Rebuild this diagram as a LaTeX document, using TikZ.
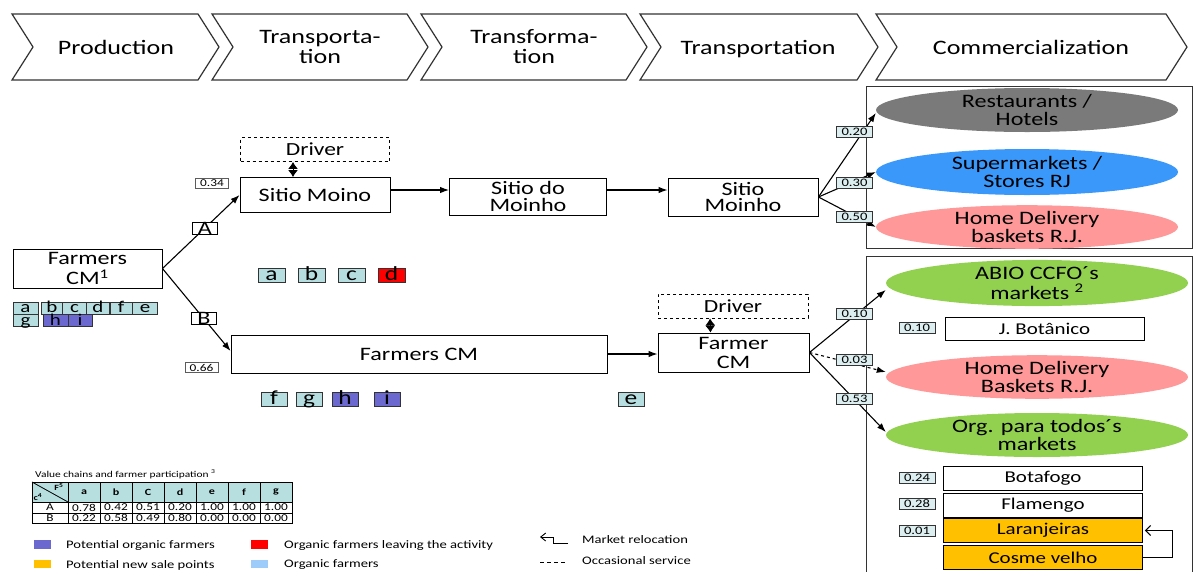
\documentclass[tikz,border=0pt]{standalone}
\usepackage{fontspec}
\setmainfont[FakeStretch=1.27]{Carlito}
\usetikzlibrary{arrows.meta,shapes.geometric}

\definecolor{edge}{HTML}{333333}
\definecolor{tealbox}{HTML}{B6DEE0}
\definecolor{purplebox}{HTML}{6B68CF}
\definecolor{redbox}{HTML}{FF0000}
\definecolor{grayell}{HTML}{7A7A7A}
\definecolor{blueell}{HTML}{3A98FA}
\definecolor{pinkell}{HTML}{FF9999}
\definecolor{greenell}{HTML}{92D050}
\definecolor{orangebox}{HTML}{FFC000}
\definecolor{labelfill}{HTML}{DCEEF0}
\definecolor{lightblue}{HTML}{9DCBFA}
\definecolor{tablehead}{HTML}{B7DFE0}

% one chevron of the header: left x, right corner x
\newcommand\chevronshape[2]{%
  \draw[chev] (#1,14) -- (#2,14) -- ++(21,33) -- (#2,80) -- (#1,80) -- ++(21,-33) -- cycle;}

\begin{document}
\begin{tikzpicture}[x=1pt,y=-1pt,
  chev/.style={draw=edge, line width=1.2pt},
  hdr/.style={align=center, font=\fontsize{20.5}{20}\selectfont},
  hdrline/.style={hdr, anchor=base},
  stage/.style={draw=black, line width=0.9pt, inner sep=0pt, align=center,
                font=\fontsize{19}{16.5}\selectfont},
  drvbox/.style={stage, dashed, font=\fontsize{18.5}{18}\selectfont},
  ell/.style={ellipse, fill=#1, inner sep=0pt, align=center, minimum width=302pt,
              font=\fontsize{19}{17.5}\selectfont},
  share/.style={draw=edge, fill=labelfill, line width=0.9pt, inner sep=0pt,
                minimum width=36pt, minimum height=11pt, font=\fontsize{11.5}{11}\selectfont},
  sharew/.style={share, fill=white, draw=edge!80, minimum width=33pt, minimum height=10pt,
                 font=\fontsize{10.5}{10}\selectfont},
  branch/.style={draw=black, fill=white, line width=0.8pt, inner sep=0pt,
                 minimum width=25pt, text height=12pt, text depth=0pt,
                 font=\fontsize{19}{19}\selectfont},
  ltr/.style={draw=edge, line width=0.8pt, fill=#1, inner sep=0pt,
              text height=10.5pt, text depth=0pt, font=\fontsize{20}{20}\selectfont},
  tinyltr/.style={ltr=#1, text height=9pt, font=\fontsize{16.5}{16}\selectfont},
  outlet/.style={draw=black, line width=0.9pt, inner sep=0pt, minimum width=199pt,
                 minimum height=24pt, font=\fontsize{16.5}{16}\selectfont},
  arr/.style={-{Latex[length=9pt,width=6.5pt]}, line width=1.1pt},
  dbl/.style={{Latex[length=7pt,width=10pt]}-{Latex[length=7pt,width=10pt]}, line width=1pt},
  frame/.style={draw=edge, line width=1pt},
  small/.style={inner sep=0pt, font=\fontsize{10.5}{10}\selectfont},
  legend/.style={anchor=west, inner sep=0pt, font=\fontsize{11.5}{11}\selectfont}
]
\fill[white] (0,0) rectangle (1194,571);
\useasboundingbox (0,0) rectangle (1194,571);

% ---------- header chevrons ----------
\chevronshape{12}{198}
\chevronshape{212}{407}
\chevronshape{421}{626}
\chevronshape{640}{857}
\chevronshape{876}{1166}
\node[hdrline] (h1) at (116,54) {Production};
\node[hdr] (h2) at (320,47) {Transporta-\\tion};
\node[hdr] (h3) at (534,47) {Transforma-\\tion};
\node[hdrline] (h4) at (758,54) {Transportation};
\node[hdrline] (h5) at (1031,54) {Commercialization};

% ---------- production ----------
\node[stage, minimum width=149pt, minimum height=39pt, font=\fontsize{19}{20}\selectfont]
  (farmers) at (87.5,268.5) {Farmers\\CM\textsuperscript{1}};

% farmer groups under the producer box
\node[tinyltr=tealbox, minimum width=25pt, minimum height=12pt] (la) at (25.5,308) {a};
\node[tinyltr=tealbox, minimum width=21pt, minimum height=12pt] (lb) at (52,308) {b};
\node[tinyltr=tealbox, minimum width=24pt, minimum height=12pt] (lc) at (74.5,308) {c};
\node[tinyltr=tealbox, minimum width=23pt, minimum height=12pt] (ld) at (98,308) {d};
\node[tinyltr=tealbox, minimum width=22pt, minimum height=12pt] (lf) at (121,308) {f};
\node[tinyltr=tealbox, minimum width=25pt, minimum height=12pt] (le) at (145,308) {e};
\node[tinyltr=tealbox, minimum width=25pt, minimum height=12pt] (lg) at (25.5,320.5) {g};
\node[tinyltr=purplebox, minimum width=25pt, minimum height=12pt] (lh) at (55.5,320.5) {h};
\node[tinyltr=purplebox, minimum width=24pt, minimum height=12pt] (li) at (80,320.5) {i};

% ---------- chain A ----------
\node[drvbox, minimum width=149pt, minimum height=24pt] (drv1) at (315,149.5) {Driver};
\node[stage, minimum width=150pt, minimum height=35pt] (sm) at (315,195) {Sitio Moino};
\node[stage, minimum width=157pt, minimum height=37pt] (sdm) at (528,196.5) {Sitio do\\Moinho};
\node[stage, minimum width=150pt, minimum height=38pt] (smh) at (743,197) {Sitio\\Moinho};

\draw[dbl] ([xshift=-22pt]drv1.south) -- ([xshift=-22pt]sm.north);
\draw[arr] ([yshift=5pt]sm.east) -- ([yshift=5pt]sm.east -| sdm.west);
\draw[arr] ([yshift=6.5pt]sdm.east) -- ([yshift=6.5pt]sdm.east -| smh.west);

\node[ltr=tealbox, minimum width=27pt, minimum height=14pt] (ma) at (271.5,275) {a};
\node[ltr=tealbox, minimum width=27pt, minimum height=14pt] (mb) at (311.5,275) {b};
\node[ltr=tealbox, minimum width=27pt, minimum height=14pt] (mc) at (351.5,275) {c};
\node[ltr=redbox, minimum width=27pt, minimum height=14pt] (md) at (391.5,275) {d};

% ---------- chain B ----------
\node[drvbox, minimum width=150pt, minimum height=24pt] (drv2) at (733,306) {Driver};
\node[stage, minimum width=376pt, minimum height=38pt] (fcm) at (419,354) {Farmers CM};
\node[stage, minimum width=151pt, minimum height=39pt, font=\fontsize{19}{19}\selectfont]
  (farmer) at (733.5,352.5) {Farmer\\CM};

\draw[dbl] ([xshift=-23pt]drv2.south) -- ([xshift=-23pt]farmer.north);
\draw[arr] (fcm.east) -- (fcm.east -| farmer.west);

\node[ltr=tealbox, minimum width=26pt, minimum height=14pt] (nf) at (274,399) {f};
\node[ltr=tealbox, minimum width=26pt, minimum height=14pt] (ng) at (309,399) {g};
\node[ltr=purplebox, minimum width=26pt, minimum height=14pt] (nh) at (345,399) {h};
\node[ltr=purplebox, minimum width=26pt, minimum height=14pt] (ni) at (387,399) {i};
\node[ltr=tealbox, minimum width=26pt, minimum height=14pt] (ne) at (631,399) {e};

% ---------- split between the two chains ----------
\draw[arr] (farmers.east) -- (sm.west)
  node[branch, pos=0.55] (brA) {A};
\draw[arr] (farmers.east) -- ([yshift=3pt]fcm.west)
  node[branch, pos=0.61] (brB) {B};
\node[sharew] (vA) at (212,183.5) {0.34};
\node[sharew] (vB) at (201.5,367.5) {0.66};

% ---------- commercialization, chain A ----------
\draw[frame] (866,86) rectangle (1192,248);
\node[ell=grayell, minimum height=44pt] (rest) at (1027,110) {Restaurants /\\Hotels};
\node[ell=blueell, minimum height=46pt] (super) at (1027,172) {Supermarkets /\\Stores RJ};
\node[ell=pinkell, minimum height=42pt] (homeA) at (1027,227) {Home Delivery\\baskets R.J.};

\draw[arr] (smh.east) -- ([yshift=-3pt]rest.west);
\draw[arr] (smh.east) -- (super.west);
\draw[arr] (smh.east) -- (homeA.west);
\node[share] (s20) at (854.5,132) {0.20};
\node[share] (s30) at (854.5,183) {0.30};
\node[share] (s50) at (854.5,217) {0.50};

% ---------- commercialization, chain B ----------
\draw[frame] (866,575) -- (866,256) -- (1192,256) -- (1192,575);
\node[ell=greenell, minimum height=42pt, font=\fontsize{19}{19.5}\selectfont]
  (abio) at (1037,283) {ABIO CCFO´s\\markets \textsuperscript{2}};
\node[ell=pinkell, minimum height=40pt] (homeB) at (1037,377) {Home Delivery\\Baskets R.J.};
\node[ell=greenell, minimum height=44pt] (org) at (1037,435) {Org. para todos´s\\markets};

\draw[arr] (farmer.east) -- ([yshift=-7pt]abio.west);
\draw[arr, dashed] (farmer.east) -- ([yshift=5pt]homeB.west);
\draw[arr] (farmer.east) -- ([yshift=3pt]org.west);
\node[share] (t10) at (854.5,314) {0.10};
\node[share] (t03) at (854.5,360) {0.03};
\node[share] (t53) at (854.5,399) {0.53};

\node[outlet, minimum height=23pt] (jbot) at (1044.5,328.5) {J. Botânico};
\node[share] (u10) at (917,328) {0.10};

\node[outlet] (bota) at (1043,478.5) {Botafogo};
\node[outlet] (flam) at (1043,505) {Flamengo};
\node[outlet, fill=orangebox] (lara) at (1043,530.5) {Laranjeiras};
\node[outlet, fill=orangebox] (cosme) at (1043,557.5) {Cosme velho};
\node[share] (u24) at (917,477.5) {0.24};
\node[share] (u28) at (917,504) {0.28};
\node[share] (u01) at (917,530.5) {0.01};

\coordinate (reloc) at (1172,544);
\draw[-{Straight Barb[length=5pt,width=10pt]}, line width=1pt, shorten >=2pt]
  (cosme.east) -| (reloc) |- (lara.east);

% ---------- participation table ----------
\node[anchor=west, inner sep=0pt, font=\fontsize{9}{9}\selectfont] (ttl) at (35,474)
  {Value chains and farmer participation \textsuperscript{3}};
\fill[tablehead] (32,482) rectangle (292,502);
\draw[line width=1pt] (32,482) rectangle (292,523);
\draw[line width=0.9pt] (32,502) -- (292,502) (32,513) -- (292,513);
\foreach \x in {68,100,132,164,196,228,260} \draw[line width=0.9pt] (\x,482) -- (\x,523);
\draw[line width=0.8pt] (32,482) -- (68,502);
\node[small, font=\bfseries\fontsize{8}{8}\selectfont] (tF) at (59,487) {F\textsuperscript{5}};
\node[small, font=\bfseries\fontsize{8}{8}\selectfont] (tc) at (38,497) {c\textsuperscript{4}};
\foreach \x/\h in {84/a,116/b,148/C,180/d,212/e,244/f,276/g}
  \node[small, font=\bfseries\fontsize{9.5}{9}\selectfont] (th\h) at (\x,492) {\h};
\node[small] (rA) at (50,507.5) {A};
\node[small] (rB) at (50,518) {B};
\foreach \x/\v [count=\i] in {84/0.78,116/0.42,148/0.51,180/0.20,212/1.00,244/1.00,276/1.00}
  \node[small] (ta\i) at (\x,507.5) {\v};
\foreach \x/\v [count=\i] in {84/0.22,116/0.58,148/0.49,180/0.80,212/0.00,244/0.00,276/0.00}
  \node[small] (tb\i) at (\x,518) {\v};

% ---------- legend ----------
\fill[purplebox] (34,540) rectangle (51,549);
\node[legend] (lg1) at (66,545) {Potential organic farmers};
\fill[orangebox] (34,560) rectangle (51,568);
\node[legend] (lg2) at (66,565) {Potential new sale points};
\fill[redbox] (251,540) rectangle (268,549);
\node[legend] (lg3) at (284,545) {Organic farmers leaving the activity};
\fill[lightblue] (251,560) rectangle (268,568);
\node[legend] (lg4) at (284,565) {Organic farmers};

\coordinate (mrA) at (568,543);
\coordinate (mrB) at (540,537);
\draw[-{Straight Barb[length=5pt,width=8pt]}, line width=0.9pt] (mrA) -- ++(-15,0) |- (mrB);
\node[legend] (lg5) at (582,540) {Market relocation};
\coordinate (osA) at (540,562);
\coordinate (osB) at (566,562);
\draw[dashed, line width=0.9pt, dash pattern=on 4pt off 3pt] (osA) -- (osB);
\node[legend] (lg6) at (582,561) {Occasional service};
\end{tikzpicture}
\end{document}
